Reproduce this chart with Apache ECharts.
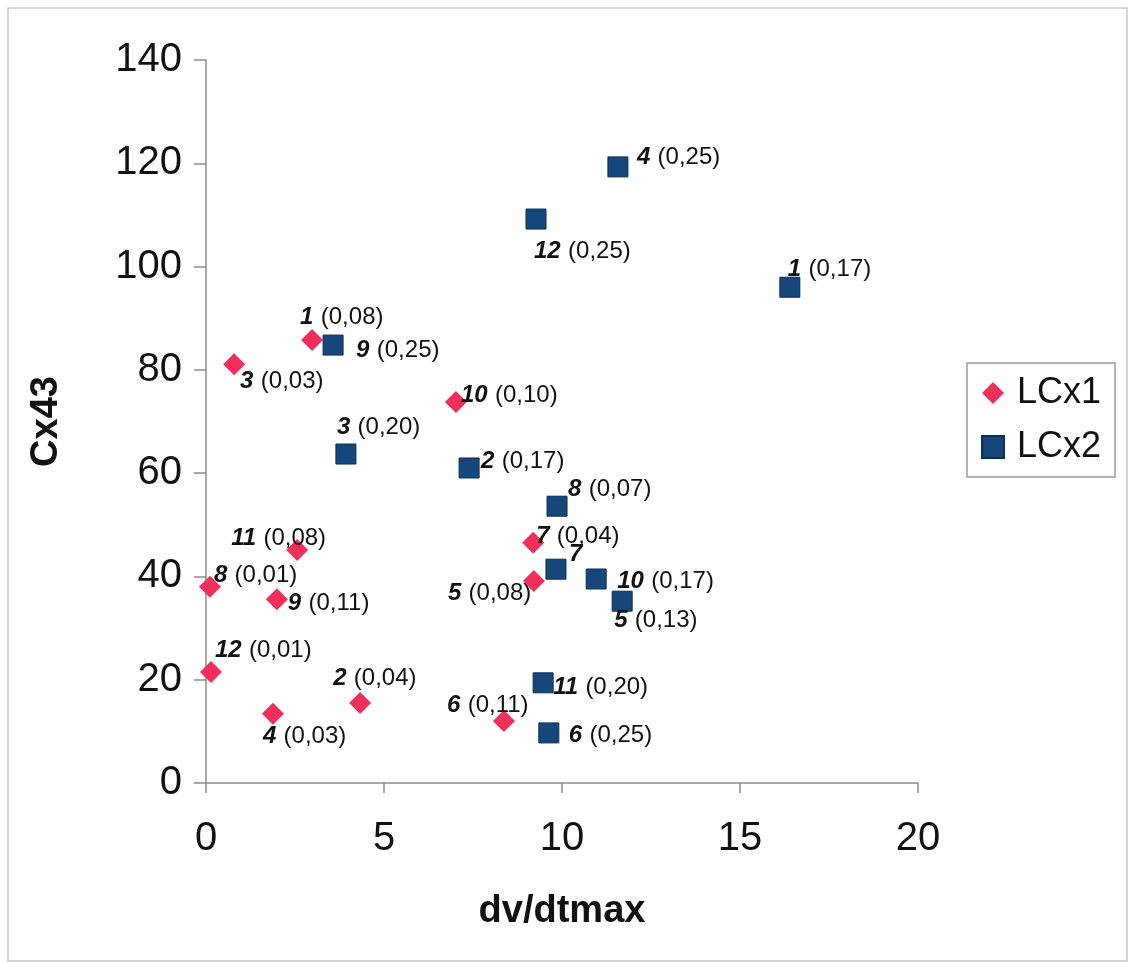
<!DOCTYPE html>
<html>
<head>
<meta charset="utf-8">
<script src="https://cdn.jsdelivr.net/npm/echarts@6/dist/echarts.min.js"></script>
<style>
  html, body { margin: 0; padding: 0; background: #fff; }
  #chart { width: 1134px; height: 964px; }
</style>
</head>
<body>
<div id="chart"></div>
<script>
// LCx1 points: dv/dtmax, Cx43, sample number and its ratio
const lcx1X = [2.98, 4.33, 0.79, 1.88, 9.21, 8.37, 9.19, 0.11, 1.99, 7.02, 2.56, 0.14];
const lcx1Y = [85.8, 15.5, 81.1, 13.4, 39.1, 12.0, 46.5, 38.0, 35.6, 73.8, 45.1, 21.5];
const lcx1Id = ['1', '2', '3', '4', '5', '6', '7', '8', '9', '10', '11', '12'];
const lcx1Ratio = ['0,08', '0,04', '0,03', '0,03', '0,08', '0,11', '0,04', '0,01', '0,11', '0,10', '0,08', '0,01'];

// LCx2 points
const lcx2X = [16.40, 7.39, 3.93, 11.57, 11.69, 9.63, 9.83, 9.86, 3.57, 10.96, 9.47, 9.27];
const lcx2Y = [96.0, 61.0, 63.7, 119.3, 35.2, 9.7, 41.4, 53.6, 84.8, 39.5, 19.4, 109.2];
const lcx2Id = ['1', '2', '3', '4', '5', '6', '7', '8', '9', '10', '11', '12'];
const lcx2Ratio = ['0,17', '0,17', '0,20', '0,25', '0,13', '0,25', null, '0,07', '0,25', '0,17', '0,20', '0,25'];

// Axis ticks
const xTicks = { min: 0, max: 20, interval: 5 };
const yTicks = { min: 0, max: 140, interval: 20 };

// Label placement (left edge / vertical middle, relative to the marker centre)
const lcx1LabelOffset = [[-12, -23], [-27, -25], [6, 17], [-10, 23], [-86, 12], [-57, -16],
                         [3, -6], [4, -11], [11, 4], [5, -7], [-66, -12], [4, -22]];
const lcx2LabelOffset = [[-2, -18], [12, -7], [-9, -27], [19, -10], [-8, 19], [20, 2],
                         [13, -15], [11, -17], [23, 5], [21, 2], [10, 5], [-2, 32]];

const FONT = '"Liberation Sans", Arial, sans-serif';

function buildData(xs, ys, ids, ratios, offsets) {
  return xs.map((x, i) => ({
    value: [x, ys[i]],
    label: {
      show: true,
      position: 'inside',
      align: 'left',
      verticalAlign: 'middle',
      offset: offsets[i],
      formatter: ratios[i] ? '{n|' + ids[i] + '} {v|(' + ratios[i] + ')}' : '{n|' + ids[i] + '}'
    }
  }));
}

const labelRich = {
  n: { fontFamily: FONT, fontSize: 24, fontWeight: 'bold', fontStyle: 'italic', color: '#111', padding: [0, 4, 0, 0] },
  v: { fontFamily: FONT, fontSize: 24, color: '#111' }
};

const chart = echarts.init(document.getElementById('chart'), null, { renderer: 'canvas' });

chart.setOption({
  animation: false,
  backgroundColor: '#fff',
  graphic: [{
    type: 'rect',
    shape: { x: 8, y: 8, width: 1119, height: 953 },
    style: { fill: 'none', stroke: '#c8c8c8', lineWidth: 1.5 },
    silent: true
  }],
  grid: { left: 206, top: 60, right: 216, bottom: 181, containLabel: false },
  legend: {
    orient: 'vertical',
    left: 967,
    top: 363,
    width: 150,
    padding: [12, 14, 12, 14],
    itemGap: 18,
    itemWidth: 22,
    itemHeight: 22,
    borderColor: '#9a9a9a',
    borderWidth: 1.5,
    textStyle: { fontFamily: FONT, fontSize: 36, color: '#111', padding: [0, 0, 0, 8] },
    data: ['LCx1', 'LCx2']
  },
  xAxis: {
    type: 'value',
    min: xTicks.min, max: xTicks.max, interval: xTicks.interval,
    name: 'dv/dtmax',
    nameLocation: 'middle',
    nameGap: 110,
    nameTextStyle: { fontFamily: FONT, fontSize: 38, fontWeight: 'bold', color: '#111' },
    axisLine: { onZero: false, lineStyle: { color: '#8c8c8c', width: 1.5 } },
    axisTick: { show: true, inside: false, length: 10, lineStyle: { color: '#8c8c8c', width: 1.5 } },
    axisLabel: { fontFamily: FONT, fontSize: 40, color: '#111', margin: 36 },
    splitLine: { show: false }
  },
  yAxis: {
    type: 'value',
    min: yTicks.min, max: yTicks.max, interval: yTicks.interval,
    name: 'Cx43',
    nameLocation: 'middle',
    nameGap: 140,
    nameRotate: 90,
    nameTextStyle: { fontFamily: FONT, fontSize: 38, fontWeight: 'bold', color: '#111' },
    axisLine: { show: true, onZero: false, lineStyle: { color: '#8c8c8c', width: 1.5 } },
    axisTick: { show: true, inside: false, length: 12, lineStyle: { color: '#8c8c8c', width: 1.5 } },
    axisLabel: { fontFamily: FONT, fontSize: 40, color: '#111', margin: 24 },
    splitLine: { show: false }
  },
  series: [
    {
      name: 'LCx1',
      type: 'scatter',
      symbol: 'diamond',
      symbolSize: 22,
      itemStyle: { color: '#f0305a', opacity: 1 },
      label: { rich: labelRich, color: '#111' },
      data: buildData(lcx1X, lcx1Y, lcx1Id, lcx1Ratio, lcx1LabelOffset)
    },
    {
      name: 'LCx2',
      type: 'scatter',
      symbol: 'rect',
      symbolSize: 20,
      itemStyle: { color: '#16477a', borderColor: '#0c2f58', borderWidth: 1, opacity: 1 },
      label: { rich: labelRich, color: '#111' },
      data: buildData(lcx2X, lcx2Y, lcx2Id, lcx2Ratio, lcx2LabelOffset)
    }
  ]
});
</script>
</body>
</html>
